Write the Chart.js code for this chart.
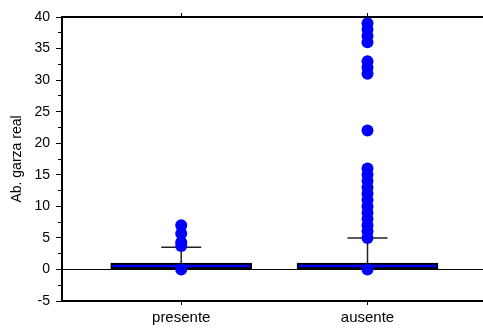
<!DOCTYPE html>
<html>
<head>
<meta charset="utf-8">
<script src="https://cdn.jsdelivr.net/npm/chart.js@4/dist/chart.umd.min.js"></script>
<style>
  html, body { margin: 0; padding: 0; background: #fff; }
  canvas { display: block; }
</style>
</head>
<body>
<canvas id="boxChart" width="483" height="329"></canvas>
<script>
// groups and box statistics
const categories = ['presente', 'ausente'];
const boxLow = [0, 0];
const boxHigh = [1, 1];
const whiskerHigh = [3.5, 5];

// values beyond the whiskers
const outliersPresente = [0, 3.7, 4.3, 5.7, 7];
const outliersAusente = [0, 5, 6, 7, 8, 9, 10, 11, 12, 13, 14, 15, 16, 22, 31, 32, 33, 36, 37, 38, 39];

const yMin = -5;
const yMax = 40;

const BLUE = '#0000ff';
const INK = '#000';

const pos = (i) => i + 1;

const boxes = categories.map((c, i) => ({ x: pos(i), y: [boxLow[i], boxHigh[i]] }));

const whiskerLines = [];
categories.forEach((c, i) => {
  whiskerLines.push({ x: pos(i), y: boxHigh[i] });
  whiskerLines.push({ x: pos(i), y: whiskerHigh[i] });
  whiskerLines.push({ x: pos(i), y: null });
});

const caps = categories.map((c, i) => ({ x: pos(i), y: whiskerHigh[i] }));

const outlierPoints = []
  .concat(outliersPresente.map(v => ({ x: pos(0), y: v })))
  .concat(outliersAusente.map(v => ({ x: pos(1), y: v })));

const categoryTicks = (scale) => {
  scale.ticks = categories.map((c, i) => ({ value: pos(i) }));
};

const font = { family: 'Arial, "Liberation Sans", sans-serif', size: 14 };

new Chart(document.getElementById('boxChart').getContext('2d'), {
  type: 'bar',
  data: {
    datasets: [
      {
        type: 'scatter',
        data: outlierPoints,
        pointRadius: 6,
        pointBackgroundColor: BLUE,
        pointBorderWidth: 0,
        clip: false,
        order: 0
      },
      {
        type: 'scatter',
        data: caps,
        pointStyle: 'line',
        pointRadius: 20,
        pointBorderColor: '#222',
        pointBorderWidth: 1.5,
        order: 1
      },
      {
        type: 'line',
        data: whiskerLines,
        borderColor: '#222',
        borderWidth: 1.5,
        pointRadius: 0,
        spanGaps: false,
        order: 1
      },
      {
        type: 'bar',
        data: boxes,
        backgroundColor: BLUE,
        borderColor: INK,
        borderWidth: 2,
        borderSkipped: false,
        barThickness: 141,
        grouped: false,
        order: 2
      }
    ]
  },
  options: {
    responsive: false,
    animation: false,
    layout: { autoPadding: false, padding: { top: 17, left: 0, right: 0, bottom: 0 } },
    plugins: {
      legend: { display: false },
      tooltip: { enabled: false }
    },
    scales: {
      x: {
        type: 'linear',
        position: 'bottom',
        offset: false,
        min: 0.36,
        max: 2.62,
        afterBuildTicks: categoryTicks,
        afterFit: (s) => { s.height = 28; s.paddingRight = 0; },
        ticks: {
          callback: (v) => categories[v - 1],
          autoSkip: false,
          maxRotation: 0,
          padding: 4,
          color: INK,
          font: { family: font.family, size: 15 }
        },
        grid: { offset: false, drawOnChartArea: false, tickLength: 4, tickColor: INK },
        border: { color: INK, width: 2 }
      },
      xTop: {
        type: 'linear',
        position: 'top',
        offset: false,
        min: 0.36,
        max: 2.62,
        afterBuildTicks: categoryTicks,
        afterFit: (s) => { s.height = 0; s.paddingRight = 0; },
        ticks: { display: false },
        grid: { offset: false, drawOnChartArea: false, tickLength: 4, tickColor: INK },
        border: { color: INK, width: 2 }
      },
      y: {
        position: 'left',
        min: yMin,
        max: yMax,
        weight: 1,
        afterFit: (s) => { s.width = 62; },
        ticks: { stepSize: 5, padding: 6, color: INK, font: font },
        grid: {
          color: (ctx) => (ctx.tick && ctx.tick.value === 0 ? INK : 'rgba(0,0,0,0)'),
          lineWidth: 1,
          tickLength: 6,
          tickColor: INK
        },
        border: { color: INK, width: 2 },
        title: {
          display: true,
          text: 'Ab. garza real',
          color: INK,
          font: font,
          padding: { top: 9, bottom: 0 }
        }
      },
      yMinor: {
        position: 'left',
        min: yMin,
        max: yMax,
        weight: -1,
        afterFit: (s) => { s.width = 0; },
        ticks: { stepSize: 2.5, display: false },
        grid: { drawOnChartArea: false, tickLength: 4, tickColor: INK },
        border: { display: false }
      }
    }
  }
});
</script>
</body>
</html>
